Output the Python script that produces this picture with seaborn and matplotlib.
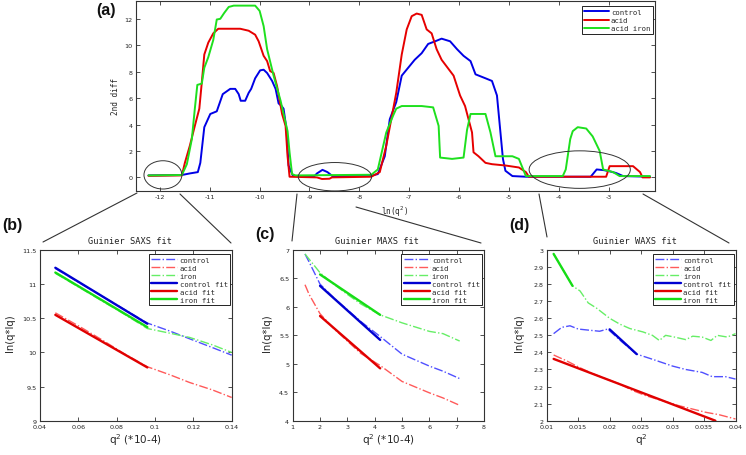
import numpy as np
import pandas as pd
import matplotlib
matplotlib.use("Agg")
import matplotlib.pyplot as plt
import seaborn as sns
from matplotlib.patches import Ellipse
from matplotlib.lines import Line2D

# ---------------- data: panel (a) second difference vs ln(q^2) ----------------
top_x_control = [-12.23, -11.56, -11.40, -11.24, -11.19, -11.11, -10.99, -10.86, -10.74, -10.59,
                 -10.49, -10.42, -10.38, -10.29, -10.22, -10.17, -10.09, -9.99, -9.92, -9.85,
                 -9.75, -9.68, -9.62, -9.56, -9.52, -9.46, -9.42, -9.33, -8.90, -8.85, -8.74,
                 -8.64, -8.54, -7.80, -7.63, -7.49, -7.39, -7.26, -7.15, -7.02, -6.89, -6.75,
                 -6.62, -6.48, -6.35, -6.18, -6.04, -5.91, -5.77, -5.67, -5.47, -5.34, -5.24,
                 -5.17, -5.12, -5.07, -4.93, -4.66, -3.36, -3.24, -3.10, -2.97, -2.85, -2.71, -2.17]
top_y_control = [0.15, 0.18, 0.30, 0.40, 1.1, 3.8, 4.8, 5.0, 6.3, 6.7,
                 6.7, 6.3, 5.8, 5.8, 6.4, 6.7, 7.5, 8.1, 8.15, 7.9,
                 7.3, 6.7, 5.6, 5.4, 5.2, 3.6, 0.9, 0.1, 0.1, 0.3, 0.57,
                 0.4, 0.1, 0.1, 0.25, 1.6, 4.4, 5.7, 7.7, 8.3, 8.9, 9.4,
                 10.1, 10.3, 10.5, 10.3, 9.7, 9.2, 8.8, 7.8, 7.5, 7.3, 6.2,
                 3.4, 1.4, 0.5, 0.1, 0.05, 0.05, 0.6, 0.55, 0.45, 0.33, 0.1, 0.05]

top_x_acid = [-12.23, -11.56, -11.50, -11.40, -11.30, -11.21, -11.16, -11.11, -11.03, -10.93,
              -10.83, -10.39, -10.22, -10.09, -10.02, -9.92, -9.85, -9.79, -9.72, -9.65,
              -9.55, -9.48, -9.44, -9.40, -8.85, -8.75, -8.60, -8.55, -7.76, -7.59, -7.46,
              -7.36, -7.26, -7.15, -7.05, -6.95, -6.85, -6.75, -6.65, -6.55, -6.45, -6.35,
              -6.21, -6.11, -5.98, -5.88, -5.74, -5.71, -5.61, -5.47, -5.34, -5.07, -4.80,
              -4.66, -4.60, -3.05, -2.98, -2.51, -2.37, -2.32, -2.17]
top_y_acid = [0.12, 0.15, 1.1, 2.4, 3.9, 5.2, 7.2, 9.3, 10.2, 10.9,
              11.25, 11.25, 11.1, 10.8, 10.3, 9.2, 8.8, 8.05, 7.9, 6.9,
              4.8, 3.9, 1.6, 0.05, 0.0, -0.12, -0.1, 0.0, 0.05, 0.4, 2.4,
              4.4, 6.4, 9.3, 11.2, 12.2, 12.4, 12.3, 11.2, 10.9, 9.7, 8.9,
              8.2, 7.7, 6.2, 5.4, 3.4, 1.9, 1.6, 1.1, 1.0, 0.9, 0.75,
              0.4, 0.05, 0.05, 0.85, 0.85, 0.4, 0.0, 0.0]

top_x_iron = [-12.23, -11.56, -11.46, -11.36, -11.30, -11.25, -11.16, -11.11, -11.03, -10.93,
              -10.86, -10.79, -10.71, -10.62, -10.52, -10.09, -10.00, -9.92, -9.85, -9.72,
              -9.58, -9.48, -9.44, -9.40, -9.35, -9.28, -7.76, -7.63, -7.46, -7.32, -7.26,
              -7.15, -6.75, -6.52, -6.41, -6.38, -6.14, -5.91, -5.84, -5.77, -5.47, -5.37,
              -5.27, -4.93, -4.80, -4.66, -3.92, -3.86, -3.77, -3.72, -3.62, -3.45, -3.32,
              -3.18, -3.11, -2.91, -2.78, -2.17]
top_y_iron = [0.15, 0.18, 1.0, 2.9, 5.2, 7.0, 7.1, 8.3, 9.1, 10.4,
              11.95, 12.0, 12.45, 12.9, 13.0, 13.0, 12.6, 11.45, 9.7, 7.7,
              5.8, 4.15, 3.5, 1.9, 0.25, 0.15, 0.2, 0.6, 3.4, 4.7, 5.2,
              5.4, 5.4, 5.3, 3.9, 1.5, 1.4, 1.5, 3.6, 4.8, 4.8, 3.4,
              1.6, 1.6, 1.4, 0.1, 0.1, 0.6, 2.9, 3.5, 3.8, 3.7, 3.1,
              2.0, 0.6, 0.4, 0.1, 0.1]

top_labels = ["control", "acid", "acid iron"]
top_xticks = [-12, -11, -10, -9, -8, -7, -6, -5, -4, -3]
top_yticks = [0, 2, 4, 6, 8, 10, 12]

# ---------------- data: panel (b) Guinier SAXS ----------------
saxs_q2 = [0.048, 0.060, 0.072, 0.084, 0.096, 0.108, 0.118, 0.130, 0.140]
saxs_control = [11.23, 11.03, 10.83, 10.63, 10.43, 10.31, 10.20, 10.07, 9.96]
saxs_acid = [10.58, 10.39, 10.19, 9.98, 9.79, 9.67, 9.56, 9.45, 9.34]
saxs_iron = [11.16, 10.96, 10.76, 10.56, 10.35, 10.28, 10.22, 10.11, 10.00]
saxs_fit_q2 = [0.048, 0.096]
saxs_control_fit = [11.24, 10.42]
saxs_acid_fit = [10.55, 9.78]
saxs_iron_fit = [11.17, 10.37]

# ---------------- data: panel (c) Guinier MAXS ----------------
maxs_q2 = [1.45, 1.6, 2.0, 2.5, 3.0, 3.5, 4.2, 5.0, 6.0, 6.5, 7.11]
maxs_control = [6.93, 6.79, 6.40, 6.16, 5.95, 5.74, 5.48, 5.17, 4.96, 4.87, 4.74]
maxs_acid = [6.39, 6.22, 5.88, 5.62, 5.40, 5.18, 4.97, 4.69, 4.49, 4.40, 4.27]
maxs_iron = [6.93, 6.84, 6.60, 6.40, 6.22, 6.05, 5.86, 5.72, 5.57, 5.53, 5.40]
maxs_fit_q2 = [2.0, 4.2]
maxs_control_fit = [6.37, 5.42]
maxs_acid_fit = [5.84, 4.92]
maxs_iron_fit = [6.57, 5.86]

# ---------------- data: panel (d) Guinier WAXS ----------------
waxs_q2_control = [0.0111, 0.0124, 0.0137, 0.0150, 0.0168, 0.0184, 0.0197, 0.0220, 0.0243,
                   0.0268, 0.0300, 0.0321, 0.0347, 0.0363, 0.0384, 0.0400]
waxs_control = [2.51, 2.547, 2.556, 2.537, 2.53, 2.524, 2.537, 2.46, 2.39,
                2.36, 2.32, 2.30, 2.283, 2.258, 2.258, 2.244]
waxs_q2_acid = [0.0111, 0.0132, 0.0153, 0.0174, 0.0195, 0.0216, 0.0237, 0.0258, 0.0284,
                0.0310, 0.0332, 0.0353, 0.0374, 0.0400]
waxs_acid = [2.385, 2.35, 2.31, 2.274, 2.244, 2.215, 2.176, 2.146, 2.117,
             2.088, 2.068, 2.049, 2.035, 2.01]
waxs_q2_iron = [0.0111, 0.0141, 0.0153, 0.0166, 0.0179, 0.0200, 0.0216, 0.0232, 0.0253, 0.0268,
                0.0279, 0.0289, 0.0303, 0.0321, 0.0332, 0.0347, 0.0361, 0.0371, 0.0387, 0.0400]
waxs_iron = [2.977, 2.79, 2.76, 2.69, 2.66, 2.60, 2.566, 2.54, 2.52, 2.50,
             2.47, 2.50, 2.49, 2.475, 2.495, 2.49, 2.47, 2.50, 2.49, 2.51]
waxs_control_fit_q2 = [0.0200, 0.0243]
waxs_control_fit = [2.535, 2.39]
waxs_acid_fit_q2 = [0.0111, 0.0368]
waxs_acid_fit = [2.362, 2.0]
waxs_iron_fit_q2 = [0.0111, 0.0141]
waxs_iron_fit = [2.977, 2.79]

low_labels = ["control", "acid", "iron", "control fit", "acid fit", "iron fit"]

# ---------------- style ----------------
sns.set_style("white")
plt.rcParams.update({
    "font.family": ["DejaVu Sans"],
    "axes.unicode_minus": False,
    "xtick.direction": "in", "ytick.direction": "in",
    "xtick.top": True, "ytick.right": True,
    "xtick.bottom": True, "ytick.left": True,
    "xtick.major.size": 3, "ytick.major.size": 3,
    "xtick.major.width": 0.6, "ytick.major.width": 0.6,
    "xtick.color": "#333333", "ytick.color": "#333333",
    "xtick.labelcolor": "#222222", "ytick.labelcolor": "#222222",
    "xtick.labelsize": 4.6, "ytick.labelsize": 4.6,
    "xtick.major.pad": 2.5, "ytick.major.pad": 2.5,
    "axes.edgecolor": "#333333", "axes.linewidth": 0.8,
})

W, H = 746, 456
fig = plt.figure(figsize=(W / 100, H / 100), dpi=100)


def fxy(px, py):
    return px / W, 1 - py / H


def add_axes(l, t, r, b):
    return fig.add_axes([l / W, 1 - b / H, (r - l) / W, (b - t) / H])


axA = add_axes(136, 2, 655, 192)
axB = add_axes(40, 251, 231.7, 421.7)
axC = add_axes(292.7, 251, 484, 421.7)
axD = add_axes(546.7, 251, 735.5, 421.7)

for ax in (axA, axB, axC, axD):
    for s in ax.spines.values():
        s.set_visible(True)
        s.set_color("#333333")
        s.set_linewidth(0.8)

MONO = "DejaVu Sans Mono"

# ---------------- panel (a) ----------------
c_blue, c_red, c_green = "#0000e6", "#e60000", "#1ee01e"
for xs, ys, col, lab in [(top_x_control, top_y_control, c_blue, top_labels[0]),
                         (top_x_acid, top_y_acid, c_red, top_labels[1]),
                         (top_x_iron, top_y_iron, c_green, top_labels[2])]:
    sns.lineplot(x=xs, y=ys, ax=axA, color=col, lw=1.4, label=lab,
                 sort=False, estimator=None)
axA.set_xlim(-12.48, -2.07)
axA.set_ylim(-1.03, 13.35)
axA.set_xticks(top_xticks)
axA.set_yticks(top_yticks)
axA.set_xlabel(r"ln(q$^2$)", fontsize=5.5, family=MONO)
axA.xaxis.set_label_coords(0.499, -0.068)
axA.set_ylabel("2nd diff", fontsize=5.5, family=MONO)
axA.yaxis.set_label_coords(-0.030, 0.5)
axA.legend(loc="upper right", bbox_to_anchor=(0.9956, 0.972), borderaxespad=0,
           prop={"family": MONO, "size": 5.2}, frameon=True, fancybox=False,
           edgecolor="#222222", framealpha=1, borderpad=0.35, labelspacing=0.3,
           handlelength=3.4, handletextpad=0.3)
axA.get_legend().get_frame().set_linewidth(0.7)

for (cx, cy, w, h) in [(-11.94, 0.19, 0.76, 2.14), (-8.49, 0.05, 1.47, 2.15),
                       (-3.58, 0.59, 2.03, 2.84)]:
    axA.add_patch(Ellipse((cx, cy), w, h, fill=False, edgecolor="#333333",
                          lw=0.7, clip_on=False, zorder=5))

# ---------------- lower panels ----------------
dash_cols = ["#5050ff", "#ff5a5a", "#66ee66"]
fit_cols = ["#0000d0", "#e00000", "#16dd16"]


def lower_panel(ax, data, fits, title, xlab, xlim, ylim, xticks, yticks, title_x):
    for (xs, ys), col, lab in zip(data, dash_cols, low_labels[:3]):
        sns.lineplot(x=xs, y=ys, ax=ax, color=col, lw=1.0, linestyle="-.",
                     label=lab, sort=False, estimator=None)
    for (xs, ys), col, lab in zip(fits, fit_cols, low_labels[3:]):
        sns.lineplot(x=xs, y=ys, ax=ax, color=col, lw=1.7, label=lab,
                     sort=False, estimator=None)
    ax.set_xlim(*xlim)
    ax.set_ylim(*ylim)
    ax.set_xticks(xticks)
    ax.set_yticks(yticks)
    ax.set_xticklabels(["%g" % v for v in xticks])
    ax.set_yticklabels(["%g" % v for v in yticks])
    ax.text(title_x, 1.03, title, transform=ax.transAxes, ha="center", va="bottom",
            fontsize=6.2, family=MONO, color="#222222")
    ax.set_xlabel(xlab, fontsize=7.5)
    ax.xaxis.set_label_coords(0.5, -0.06)
    ax.set_ylabel("ln(q*Iq)", fontsize=7.2)
    leg = ax.legend(loc="upper right", bbox_to_anchor=(0.992, 0.977), borderaxespad=0,
                    prop={"family": MONO, "size": 5.2}, frameon=True, fancybox=False,
                    edgecolor="#222222", framealpha=1, borderpad=0.35, labelspacing=0.28,
                    handlelength=3.6, handletextpad=0.3)
    leg.get_frame().set_linewidth(0.7)


lower_panel(axB,
            [(saxs_q2, saxs_control), (saxs_q2, saxs_acid), (saxs_q2, saxs_iron)],
            [(saxs_fit_q2, saxs_control_fit), (saxs_fit_q2, saxs_acid_fit),
             (saxs_fit_q2, saxs_iron_fit)],
            "Guinier SAXS fit", r"q$^2$ (*10-4)", (0.04, 0.14), (9, 11.5),
            [0.04, 0.06, 0.08, 0.1, 0.12, 0.14], [9, 9.5, 10, 10.5, 11, 11.5], 0.47)
axB.yaxis.set_label_coords(-0.13, 0.52)

lower_panel(axC,
            [(maxs_q2, maxs_control), (maxs_q2, maxs_acid), (maxs_q2, maxs_iron)],
            [(maxs_fit_q2, maxs_control_fit), (maxs_fit_q2, maxs_acid_fit),
             (maxs_fit_q2, maxs_iron_fit)],
            "Guinier MAXS fit", r"q$^2$ (*10-4)", (1, 8), (4, 7),
            [1, 2, 3, 4, 5, 6, 7, 8], [4, 4.5, 5, 5.5, 6, 6.5, 7], 0.44)
axC.yaxis.set_label_coords(-0.108, 0.52)

lower_panel(axD,
            [(waxs_q2_control, waxs_control), (waxs_q2_acid, waxs_acid),
             (waxs_q2_iron, waxs_iron)],
            [(waxs_control_fit_q2, waxs_control_fit), (waxs_acid_fit_q2, waxs_acid_fit),
             (waxs_iron_fit_q2, waxs_iron_fit)],
            "Guinier WAXS fit", r"q$^2$", (0.01, 0.04), (2, 3),
            [0.01, 0.015, 0.02, 0.025, 0.03, 0.035, 0.04],
            [2, 2.1, 2.2, 2.3, 2.4, 2.5, 2.6, 2.7, 2.8, 2.9, 3], 0.47)
axD.yaxis.set_label_coords(-0.121, 0.52)

# ---------------- connector lines ----------------
for (x1, y1, x2, y2) in [(137, 194, 43, 243), (180, 195, 231, 244),
                         (297, 195, 292, 242), (356, 208, 481, 244),
                         (539, 195, 547, 238), (643, 195, 729, 244)]:
    a = fxy(x1, y1)
    b = fxy(x2, y2)
    fig.add_artist(Line2D([a[0], b[0]], [a[1], b[1]], transform=fig.transFigure,
                          color="#333333", lw=0.8))

# ---------------- panel letters ----------------
for (px, py, lab) in [(96, 10, "(a)"), (2, 225.5, "(b)"), (255, 234, "(c)"), (509, 226, "(d)")]:
    x, y = fxy(px, py)
    fig.text(x, y, lab, ha="left", va="center", fontsize=11.5, fontweight="bold",
             family="Liberation Sans", color="#111111")

fig.savefig("out.png", dpi=100)
